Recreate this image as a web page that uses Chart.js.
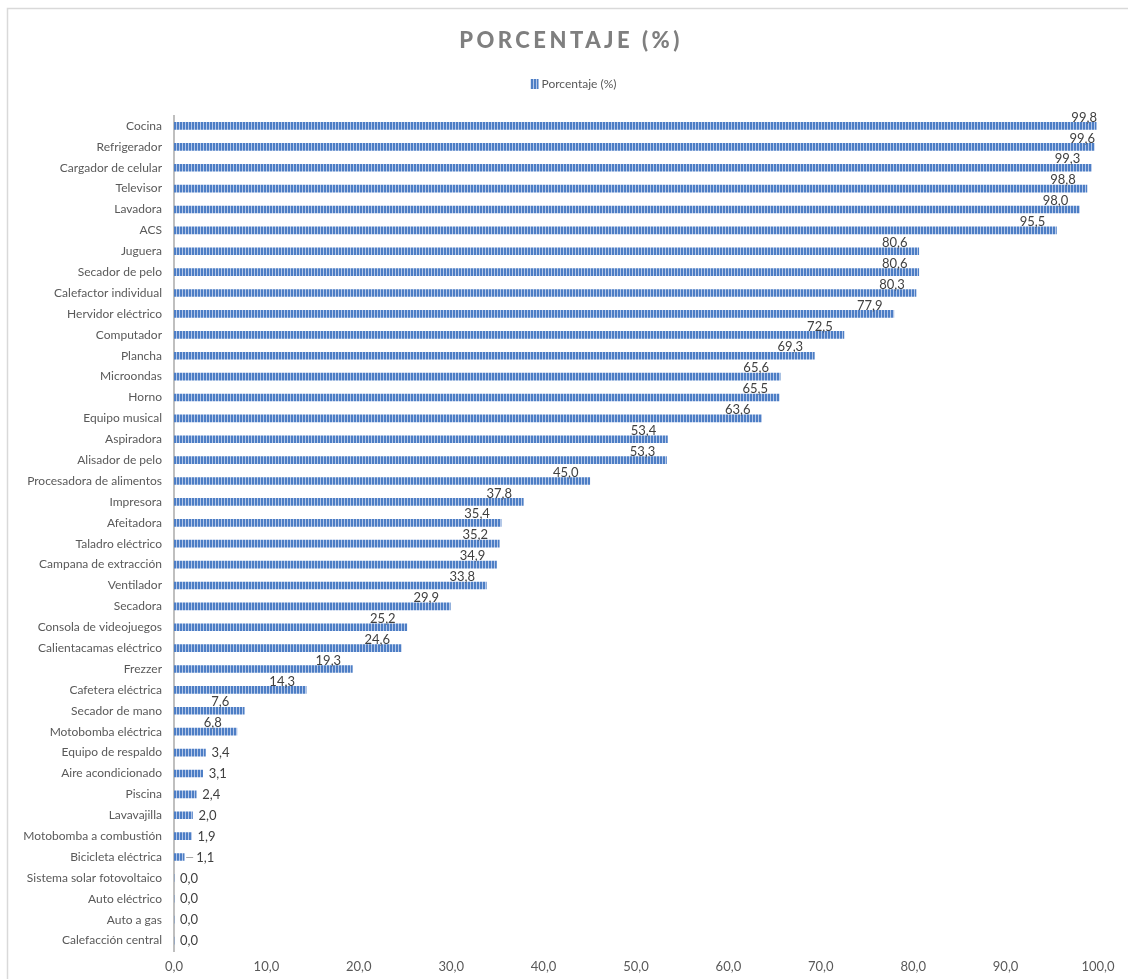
<!DOCTYPE html>
<html lang="es">
<head>
<meta charset="utf-8">
<title>Porcentaje (%)</title>
<script src="https://cdn.jsdelivr.net/npm/chart.js@4.4.1/dist/chart.umd.min.js"></script>
<style>
  html, body { margin: 0; padding: 0; background: #fff; }
  #wrap { position: relative; width: 1128px; height: 979px; }
</style>
</head>
<body>
<div id="wrap"><canvas id="barChart"></canvas></div>
<script>
// datos
const categorias = [
    'Cocina', 'Refrigerador', 'Cargador de celular', 'Televisor', 'Lavadora', 'ACS',
    'Juguera', 'Secador de pelo', 'Calefactor individual', 'Hervidor eléctrico',
    'Computador', 'Plancha', 'Microondas', 'Horno', 'Equipo musical', 'Aspiradora',
    'Alisador de pelo', 'Procesadora de alimentos', 'Impresora', 'Afeitadora',
    'Taladro eléctrico', 'Campana de extracción', 'Ventilador', 'Secadora',
    'Consola de videojuegos', 'Calientacamas eléctrico', 'Frezzer', 'Cafetera eléctrica',
    'Secador de mano', 'Motobomba eléctrica', 'Equipo de respaldo', 'Aire acondicionado',
    'Piscina', 'Lavavajilla', 'Motobomba a combustión', 'Bicicleta eléctrica',
    'Sistema solar fotovoltaico', 'Auto eléctrico', 'Auto a gas', 'Calefacción central'
];
const porcentajes = [
    99.8, 99.6, 99.3, 98.8, 98.0, 95.5,
    80.6, 80.6, 80.3, 77.9,
    72.5, 69.3, 65.6, 65.5, 63.6, 53.4,
    53.3, 45.0, 37.8, 35.4,
    35.2, 34.9, 33.8, 29.9,
    25.2, 24.6, 19.3, 14.3,
    7.6, 6.8, 3.4, 3.1,
    2.4, 2.0, 1.9, 1.1,
    0.0, 0.0, 0.0, 0.0
];
const ticksX = [0, 10, 20, 30, 40, 50, 60, 70, 80, 90, 100];

const titulo = 'PORCENTAJE (%)';
const serie = 'Porcentaje (%)';

const fmt = v => v.toFixed(1).replace('.', ',');

const canvas = document.getElementById('barChart');

// relleno rayado vertical como en Excel
function rayado() {
    const c = document.createElement('canvas');
    c.width = 3; c.height = 8;
    const g = c.getContext('2d');
    g.fillStyle = '#b5c8e9';
    g.fillRect(0, 0, 3, 8);
    g.fillStyle = '#4d7ec5';
    g.fillRect(0, 0, 2, 8);
    return canvas.getContext('2d').createPattern(c, 'repeat');
}
const relleno = rayado();

// marco, título y leyenda
const marcoPlugin = {
    id: 'marco',
    afterDraw(chart) {
        const ctx = chart.ctx;
        ctx.save();
        ctx.strokeStyle = '#d9d9d9';
        ctx.lineWidth = 1.5;
        ctx.strokeRect(7.5, 8.5, 1300, 1200);

        ctx.fillStyle = '#7f7f7f';
        ctx.font = '900 22px Lato';
        ctx.letterSpacing = '3.5px';
        ctx.textAlign = 'center';
        ctx.textBaseline = 'middle';
        ctx.fillText(titulo, 571, 41);

        ctx.letterSpacing = '0px';
        ctx.font = '12px Lato';
        ctx.textAlign = 'left';
        const w = ctx.measureText(serie).width;
        const x = 574 - (w + 12) / 2;
        ctx.fillStyle = relleno;
        ctx.fillRect(x, 79, 8, 10);
        ctx.fillStyle = '#595959';
        ctx.fillText(serie, x + 11, 84.5);
        ctx.restore();
    }
};

// etiquetas de datos
const etiquetasPlugin = {
    id: 'etiquetas',
    afterDatasetsDraw(chart) {
        const ctx = chart.ctx;
        const meta = chart.getDatasetMeta(0);
        const right = chart.chartArea.right;
        ctx.save();
        ctx.font = '13px Lato';
        ctx.fillStyle = '#404040';
        ctx.textBaseline = 'middle';
        meta.data.forEach((bar, i) => {
            const v = porcentajes[i];
            const txt = fmt(v);
            if (v >= 5) {
                ctx.textAlign = 'center';
                let cx = bar.x - 24;
                if (bar.x > right - 4) cx = bar.x - 12;
                ctx.fillText(txt, cx, bar.y - 8.5);
            } else {
                ctx.textAlign = 'left';
                let lx = bar.x + 6;
                if (v > 0 && v < 1.5) {
                    ctx.strokeStyle = '#a6a6a6';
                    ctx.lineWidth = 1;
                    ctx.beginPath();
                    ctx.moveTo(bar.x + 2, bar.y + 0.5);
                    ctx.lineTo(bar.x + 9, bar.y + 0.5);
                    ctx.stroke();
                    lx = bar.x + 12;
                }
                ctx.fillText(txt, lx, bar.y + 0.5);
            }
        });
        ctx.restore();
    }
};

new Chart(canvas, {
    type: 'bar',
    data: {
        labels: categorias,
        datasets: [{
            label: serie,
            data: porcentajes,
            backgroundColor: relleno,
            borderWidth: 0,
            barThickness: 7
        }]
    },
    options: {
        indexAxis: 'y',
        responsive: true,
        maintainAspectRatio: false,
        animation: false,
        layout: {
            padding: { top: 115.5, right: 30, left: 0, bottom: 0 }
        },
        scales: {
            x: {
                min: 0,
                max: 100,
                afterBuildTicks(scale) {
                    scale.ticks = ticksX.map(v => ({ value: v }));
                },
                afterFit(scale) { scale.height = 28; },
                grid: { display: false, drawTicks: false },
                border: { display: false },
                ticks: {
                    padding: 8,
                    color: '#595959',
                    font: { family: 'Lato', size: 13 },
                    callback: v => fmt(v)
                }
            },
            y: {
                afterFit(scale) { scale.width = 174; },
                grid: { display: false, drawTicks: false },
                border: { display: true, color: '#bfbfbf', width: 2 },
                ticks: {
                    padding: 12,
                    autoSkip: false,
                    color: '#595959',
                    font: { family: 'Lato', size: 12 }
                }
            }
        },
        plugins: {
            legend: { display: false },
            title: { display: false },
            tooltip: { enabled: false }
        }
    },
    plugins: [marcoPlugin, etiquetasPlugin]
});
</script>
</body>
</html>
